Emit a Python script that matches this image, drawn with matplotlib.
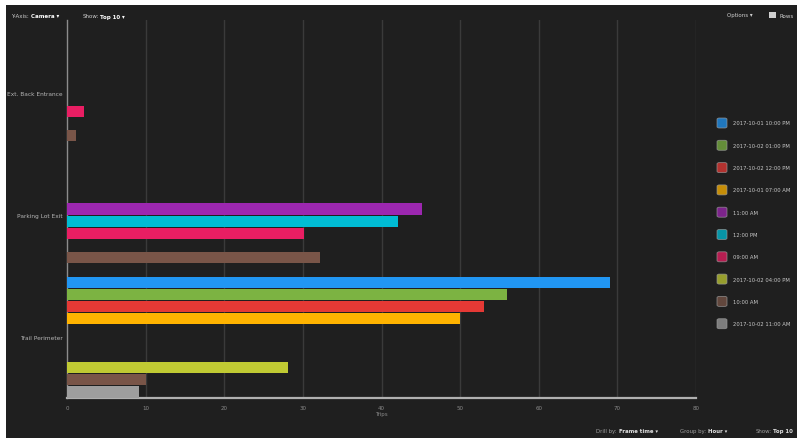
import matplotlib
matplotlib.use("Agg")
import matplotlib.pyplot as plt
from matplotlib.patches import FancyBboxPatch, Rectangle

categories = ["Ext. Back Entrance", "Parking Lot Exit", "Trail Perimeter"]
series_names = [
    "2017-10-01 10:00 PM", "2017-10-02 01:00 PM", "2017-10-02 12:00 PM",
    "2017-10-01 07:00 AM", "11:00 AM", "12:00 PM", "09:00 AM",
    "2017-10-02 04:00 PM", "10:00 AM", "2017-10-02 11:00 AM",
]
series_colors = [
    "#2196F3", "#7CB342", "#E53935", "#FFB300", "#9C27B0",
    "#00BCD4", "#E91E63", "#C0CA33", "#795548", "#9E9E9E",
]
# values per series across categories (0 = no bar)
values = [
    [0, 0, 69],    # 2017-10-01 10:00 PM
    [0, 0, 56],    # 2017-10-02 01:00 PM
    [0, 0, 53],    # 2017-10-02 12:00 PM
    [0, 0, 50],    # 2017-10-01 07:00 AM
    [0, 45.2, 0],  # 11:00 AM
    [0, 42.1, 0],  # 12:00 PM
    [2.2, 30.2, 0],  # 09:00 AM
    [0, 0, 28.1],  # 2017-10-02 04:00 PM
    [1.1, 32.2, 10], # 10:00 AM
    [0, 0, 9.2],   # 2017-10-02 11:00 AM
]
x_ticks = [0, 10, 20, 30, 40, 50, 60, 70, 80]

W, H = 797, 439
bg = "#1f1f1f"
fig = plt.figure(figsize=(W / 100, H / 100), dpi=100)
fig.patch.set_facecolor(bg)
# white frame strips at top and left
fig.patches.append(Rectangle((0, 1 - 6 / H), 1, 6 / H, transform=fig.transFigure,
                             facecolor="white", edgecolor="none", zorder=10))
fig.patches.append(Rectangle((0, 0), 6 / W, 1, transform=fig.transFigure,
                             facecolor="white", edgecolor="none", zorder=10))

left, right = 67 / W, 696 / W
top, bottom = 1 - 21 / H, 1 - 399 / H
ax = fig.add_axes([left, bottom, right - left, top - bottom])
ax.set_facecolor(bg)
ax.set_xlim(0, 80)
ax.set_ylim(3, -0.1)

n = len(series_names)
for j, (name, col, vals) in enumerate(zip(series_names, series_colors, values)):
    ys = [i + (j + 0.5) / n for i in range(len(categories))]
    ax.barh(ys, vals, height=0.092, color=col, edgecolor="none", zorder=3)

for t in x_ticks[1:]:
    ax.axvline(t, color="#3a3a3a", lw=1.0, zorder=1)

ax.set_xticks(x_ticks)
ax.set_xticklabels([str(t) for t in x_ticks], fontsize=4.0, color="#8a8a8a")
ax.tick_params(axis="x", length=0, pad=5)
ax.set_yticks([i + 0.5 for i in range(len(categories))])
ax.set_yticklabels(categories, fontsize=4.2, color="#b5b5b5")
ax.tick_params(axis="y", length=0, pad=3)
ax.set_xlabel("Trips", fontsize=4.0, color="#8a8a8a", labelpad=0.5)

for s in ["top", "right"]:
    ax.spines[s].set_visible(False)
ax.spines["left"].set_color("#8c8c8c")
ax.spines["left"].set_linewidth(1.0)
ax.spines["bottom"].set_color("#b0b0b0")
ax.spines["bottom"].set_linewidth(1.6)

# legend
leg_y0, leg_dy = 124, 22.3
for j, (name, col) in enumerate(zip(series_names, series_colors)):
    yc = leg_y0 + j * leg_dy
    box = FancyBboxPatch(((722 - 5) / W, 1 - (yc + 5) / H), 10 / W, 10 / H,
                         boxstyle="round,pad=0,rounding_size=0.003",
                         transform=fig.transFigure, facecolor=col, edgecolor="#9a9a9a",
                         linewidth=0.6, alpha=0.75, zorder=5)
    fig.patches.append(box)
    fig.text(733 / W, 1 - yc / H, name, fontsize=3.8, color="#c8c8c8",
             va="center", ha="left")

# header / footer controls
hdr = dict(fontsize=4.0, color="#d0d0d0", va="center")
hdb = dict(fontsize=4.0, color="#ffffff", va="center", weight="bold")
fig.text(11 / W, 1 - 17 / H, "Y-Axis:", **hdr)
fig.text(31 / W, 1 - 17 / H, "Camera ▾", **hdb)
fig.text(83 / W, 1 - 17 / H, "Show:", **hdr)
fig.text(100 / W, 1 - 17 / H, "Top 10 ▾", **hdb)
fig.text(727 / W, 1 - 16 / H, "Options ▾", **hdr)
fig.patches.append(Rectangle((769 / W, 1 - 19 / H), 7 / W, 6 / H, transform=fig.transFigure,
                             facecolor="#d0d0d0", edgecolor="none", zorder=5))
fig.text(779 / W, 1 - 16 / H, "Rows", **hdr)

ftr = dict(fontsize=3.9, color="#a0a0a0", va="center")
ftb = dict(fontsize=3.9, color="#e0e0e0", va="center", weight="bold")
fig.text(596 / W, 1 - 432 / H, "Drill by:", **ftr)
fig.text(619 / W, 1 - 432 / H, "Frame time ▾", **ftb)
fig.text(680 / W, 1 - 432 / H, "Group by:", **ftr)
fig.text(708 / W, 1 - 432 / H, "Hour ▾", **ftb)
fig.text(756 / W, 1 - 432 / H, "Show:", **ftr)
fig.text(773 / W, 1 - 432 / H, "Top 10", **ftb)

fig.savefig("out.png", dpi=100, facecolor=fig.get_facecolor())
